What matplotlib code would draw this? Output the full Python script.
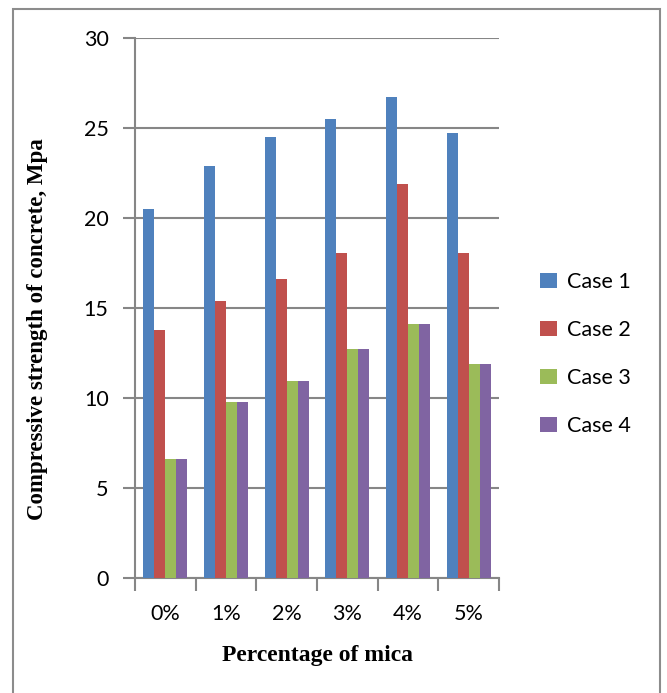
import matplotlib
matplotlib.use("Agg")
import matplotlib.pyplot as plt
import numpy as np
from matplotlib.patches import Rectangle, Patch

categories = ["0%", "1%", "2%", "3%", "4%", "5%"]
series_names = ["Case 1", "Case 2", "Case 3", "Case 4"]
case1 = [20.5, 22.9, 24.5, 25.5, 26.75, 24.7]
case2 = [13.8, 15.4, 16.6, 18.05, 21.9, 18.05]
case3 = [6.6, 9.8, 10.95, 12.7, 14.1, 11.9]
case4 = [6.6, 9.8, 10.95, 12.7, 14.1, 11.9]
yticks = [0, 5, 10, 15, 20, 25, 30]

colors = ["#4F81BD", "#C0504D", "#9BBB59", "#8064A2"]
grey = "#868686"

W, H = 667, 693
fig = plt.figure(figsize=(W / 100, H / 100), dpi=100)
ax = fig.add_axes([135 / W, 1 - 578 / H, 364 / W, 540 / H])

x = np.arange(len(categories))
bar_w = 0.1815
series = [case1, case2, case3, case4]
for i, (vals, c, name) in enumerate(zip(series, colors, series_names)):
    ax.bar(x + (i - 1.5) * bar_w, vals, width=bar_w, color=c, label=name,
           linewidth=0, zorder=3)

ax.set_xlim(-0.5, len(categories) - 0.5)
ax.set_ylim(0, 30)
ax.set_yticks(yticks)
ax.set_yticklabels([str(v) for v in yticks])
ax.set_xticks(np.arange(len(categories) + 1) - 0.5, minor=False)
ax.set_xticklabels([""] * (len(categories) + 1))
ax.set_xticks(x, minor=True)
ax.set_xticklabels(categories, minor=True)
ax.tick_params(axis="x", which="minor", length=0, pad=19, labelsize=15.5)
ax.tick_params(axis="x", which="major", length=9, width=1.5, color=grey)
ax.tick_params(axis="y", length=9, width=1.5, color=grey, pad=10, labelsize=15.5)
for lab in ax.get_xticklabels(minor=True) + ax.get_yticklabels():
    lab.set_fontfamily("Lato")

ax.grid(axis="y", color=grey, linewidth=1.5, zorder=0)
ax.set_axisbelow(True)
for s in ["top", "right"]:
    ax.spines[s].set_visible(False)
for s in ["left", "bottom"]:
    ax.spines[s].set_color(grey)
    ax.spines[s].set_linewidth(1.5)

ax.set_ylabel("Compressive strength of concrete, Mpa", fontfamily="Liberation Serif",
              fontweight="bold", fontsize=16.5)
ax.yaxis.set_label_coords(-0.24, 0.461)
ax.set_xlabel("Percentage of mica", fontfamily="Liberation Serif",
              fontweight="bold", fontsize=17)
ax.xaxis.set_label_coords(0.5, -0.125)

handles = [Patch(facecolor=c, edgecolor="none") for c in colors]
fig.legend(handles, series_names, loc="center left",
           bbox_to_anchor=(521 / W, 1 - 354 / H), frameon=False,
           prop={"family": "Lato", "size": 15.5}, handlelength=0.75,
           handleheight=0.75, handletextpad=0.5, labelspacing=1.3)

fig.patches.append(Rectangle((13 / W, -0.1), (660 - 13) / W, 1.1 - 9 / H,
                             transform=fig.transFigure, fill=False,
                             edgecolor="#8c8c8c", linewidth=1.5))

fig.savefig("out.png", dpi=100, facecolor="white")
